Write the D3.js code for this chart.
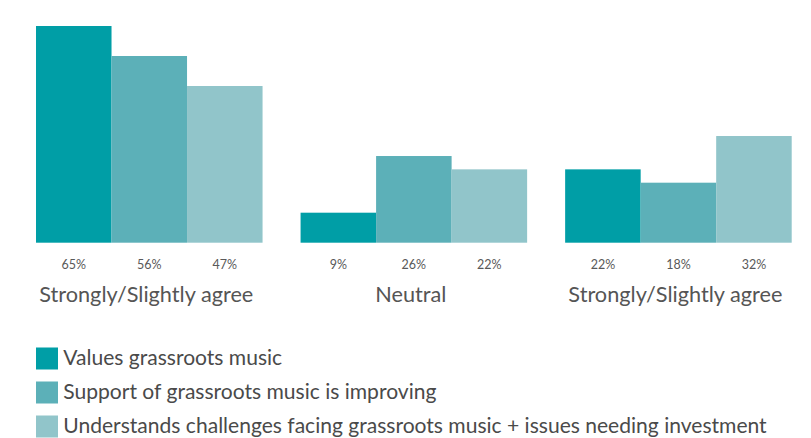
<!DOCTYPE html>
<html>
<head>
<meta charset="utf-8">
<script src="https://cdn.jsdelivr.net/npm/d3@7"></script>
<style>
  html, body { margin: 0; padding: 0; background: #fff; }
  svg { display: block; font-family: Lato, "Open Sans", sans-serif; }
</style>
</head>
<body>
<svg id="chart" width="811" height="438"></svg>
<script>
// Response groups and the three statements
const categories = ["Strongly/Slightly agree", "Neutral", "Strongly/Slightly agree"];
const seriesNames = [
  "Values grassroots music",
  "Support of grassroots music is improving",
  "Understands challenges facing grassroots music + issues needing investment"
];
const valuesGrassroots = [65, 9, 22];
const supportImproving = [56, 26, 18];
const understandsChallenges = [47, 22, 32];
const seriesColors = ["#009ea6", "#5cb0b8", "#91c5ca"];

const seriesValues = [valuesGrassroots, supportImproving, understandsChallenges];

const svg = d3.select("#chart");
const baselineY = 242.7;
const plotTop = 16;

// Groups are keyed by index since two categories share the same label
const x0 = d3.scaleBand()
  .domain(d3.range(categories.length))
  .range([36, 791.7])
  .paddingInner(0.1437)
  .paddingOuter(0);

const x1 = d3.scaleBand()
  .domain(d3.range(seriesNames.length))
  .range([0, x0.bandwidth()])
  .padding(0);

const y = d3.scaleLinear()
  .domain([0, 68])
  .range([baselineY, plotTop]);

const groups = svg.selectAll("g.group")
  .data(categories)
  .join("g")
  .attr("class", "group")
  .attr("transform", (d, i) => `translate(${x0(i)},0)`);

groups.each(function (cat, ci) {
  const g = d3.select(this);
  const rows = seriesValues.map((vals, si) => ({ si, v: vals[ci] }));

  g.selectAll("rect")
    .data(rows)
    .join("rect")
    .attr("x", d => x1(d.si))
    .attr("width", x1.bandwidth())
    .attr("y", d => y(d.v))
    .attr("height", d => y(0) - y(d.v))
    .attr("fill", d => seriesColors[d.si]);

  g.selectAll("text.val")
    .data(rows)
    .join("text")
    .attr("class", "val")
    .attr("x", d => x1(d.si) + x1.bandwidth() / 2)
    .attr("y", 268.7)
    .attr("text-anchor", "middle")
    .attr("font-size", 12.5)
    .attr("fill", "#595959")
    .text(d => d.v + "%");

  g.append("text")
    .attr("x", x0.bandwidth() / 2 - 3)
    .attr("y", 301.7)
    .attr("text-anchor", "middle")
    .attr("font-size", 21.7)
    .attr("fill", "#555")
    .text(cat);
});

// Legend
const legend = svg.append("g").attr("class", "legend");
const legendRows = legend.selectAll("g")
  .data(seriesNames)
  .join("g")
  .attr("transform", (d, i) => `translate(36,${347.5 + i * 34})`);

legendRows.append("rect")
  .attr("width", 22)
  .attr("height", 22)
  .attr("fill", (d, i) => seriesColors[i]);

legendRows.append("text")
  .attr("transform", "translate(27.3,17.5) scale(0.98,1)")
  .attr("font-size", 21.5)
  .attr("fill", "#4a4a4a")
  .text(d => d);
</script>
</body>
</html>
